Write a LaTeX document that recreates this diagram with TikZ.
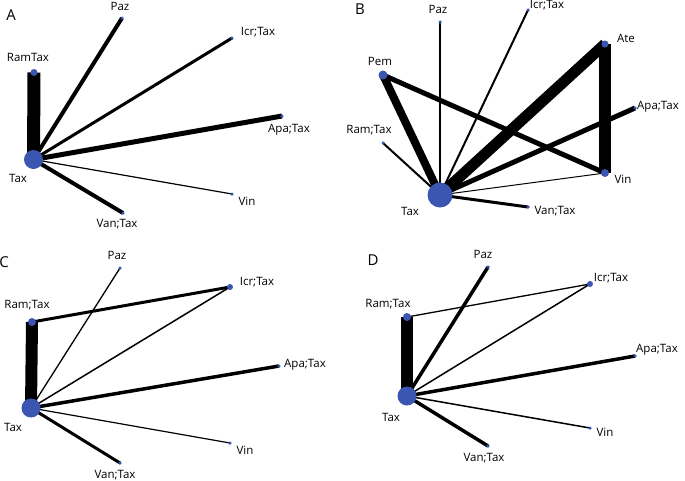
\documentclass[tikz,border=0pt]{standalone}
\usepackage{fontspec}
\setmainfont{Open Sans}
\definecolor{nodeblue}{HTML}{3A56B0}
\begin{document}
\begin{tikzpicture}[x=1pt,y=-1pt,
  dot/.style={circle,fill=nodeblue,inner sep=0pt,minimum size=#1},
  lab/.style={font=\fontsize{11.5}{13}\selectfont,inner sep=0pt},
  panel/.style={font=\fontsize{15}{17}\selectfont,inner sep=0pt},
  ed/.style={line width=#1,black,line cap=butt}]
\useasboundingbox (0,0) rectangle (685,480);
% ---------------- Panel A
\node[panel] (pA) at (11,15) {A};
\coordinate (aTax) at (33.5,159.5);
\coordinate (aRam) at (34,72.5);
\coordinate (aPaz) at (122,18);
\coordinate (aIcr) at (232,38);
\coordinate (aApa) at (282,116);
\coordinate (aVin) at (232,194);
\coordinate (aVan) at (123,213);
\draw[ed=13pt] (aTax) -- (aRam);
\draw[ed=4pt] (aTax) -- (aPaz);
\draw[ed=3pt] (aTax) -- (aIcr);
\draw[ed=5pt] (aTax) -- (aApa);
\draw[ed=1.2pt] (aTax) -- (aVin);
\draw[ed=4pt] (aTax) -- (aVan);
\node[dot=19pt] (nATax) at (aTax) {};
\node[dot=7pt] (nARam) at (aRam) {};
\node[dot=3.5pt] (nAPaz) at (aPaz) {};
\node[dot=3.5pt] (nAIcr) at (aIcr) {};
\node[dot=3.5pt] (nAApa) at (aApa) {};
\node[dot=3.5pt] (nAVin) at (aVin) {};
\node[dot=3.5pt] (nAVan) at (aVan) {};
\node[lab] (lATax) at (18,178) {Tax};
\node[lab] (lARam) at (28,57) {RamTax};
\node[lab] (lAPaz) at (120,6) {Paz};
\node[lab] (lAIcr) at (258,32) {Icr;Tax};
\node[lab] (lAApa) at (289,130) {Apa;Tax};
\node[lab] (lAVin) at (247,201) {Vin};
\node[lab] (lAVan) at (117,224) {Van;Tax};
% ---------------- Panel B
\node[panel] (pB) at (360,9) {B};
\coordinate (bTax) at (440,195);
\coordinate (bPem) at (383,75);
\coordinate (bPaz) at (440,22);
\coordinate (bIcr) at (528,10);
\coordinate (bAte) at (605,44);
\coordinate (bApa) at (635,108);
\coordinate (bRam) at (383,143);
\coordinate (bVin) at (605,173);
\coordinate (bVan) at (528,207);
\draw[ed=8pt] (bTax) -- (bPem);
\draw[ed=5pt] (bPem) -- (bVin);
\draw[ed=2pt] (bTax) -- (bPaz);
\draw[ed=2pt] (bTax) -- (bIcr);
\draw[ed=11pt] (bTax) -- (bAte);
\draw[ed=12.5pt] (bAte) -- (bVin);
\draw[ed=5pt] (bTax) -- (bApa);
\draw[ed=2pt] (bTax) -- (bRam);
\draw[ed=1pt] (bTax) -- (bVin);
\draw[ed=3pt] (bTax) -- (bVan);
\node[dot=25pt] (nBTax) at (bTax) {};
\node[dot=9pt] (nBPem) at (bPem) {};
\node[dot=3.5pt] (nBPaz) at (bPaz) {};
\node[dot=3.5pt] (nBIcr) at (bIcr) {};
\node[dot=7pt] (nBAte) at (bAte) {};
\node[dot=3.5pt] (nBApa) at (bApa) {};
\node[dot=3.5pt] (nBRam) at (bRam) {};
\node[dot=8pt] (nBVin) at (bVin) {};
\node[dot=3.5pt] (nBVan) at (bVan) {};
\node[lab] (lBTax) at (410,211) {Tax};
\node[lab] (lBPem) at (380,61) {Pem};
\node[lab] (lBPaz) at (438,9) {Paz};
\node[lab] (lBIcr) at (547,5) {Icr;Tax};
\node[lab] (lBAte) at (626,38) {Ate};
\node[lab] (lBApa) at (658,107) {Apa;Tax};
\node[lab] (lBRam) at (369,130) {Ram;Tax};
\node[lab] (lBVin) at (623,179) {Vin};
\node[lab] (lBVan) at (555,211) {Van;Tax};
% ---------------- Panel C
\node[panel] (pC) at (4,262) {C};
\coordinate (cTax) at (31,408);
\coordinate (cRam) at (32,322);
\coordinate (cPaz) at (120,268);
\coordinate (cIcr) at (230,287);
\coordinate (cApa) at (279,366);
\coordinate (cVin) at (230,443);
\coordinate (cVan) at (120,463);
\draw[ed=12pt] (cTax) -- (cRam);
\draw[ed=3pt] (cRam) -- (cIcr);
\draw[ed=1.3pt] (cTax) -- (cPaz);
\draw[ed=1.5pt] (cTax) -- (cIcr);
\draw[ed=3.5pt] (cTax) -- (cApa);
\draw[ed=1.2pt] (cTax) -- (cVin);
\draw[ed=3pt] (cTax) -- (cVan);
\node[dot=19pt] (nCTax) at (cTax) {};
\node[dot=8pt] (nCRam) at (cRam) {};
\node[dot=3.5pt] (nCPaz) at (cPaz) {};
\node[dot=6pt] (nCIcr) at (cIcr) {};
\node[dot=3.5pt] (nCApa) at (cApa) {};
\node[dot=3.5pt] (nCVin) at (cVin) {};
\node[dot=3.5pt] (nCVan) at (cVan) {};
\node[lab] (lCTax) at (13,427) {Tax};
\node[lab] (lCRam) at (27,305) {Ram;Tax};
\node[lab] (lCPaz) at (117,255) {Paz};
\node[lab] (lCIcr) at (257,282) {Icr;Tax};
\node[lab] (lCApa) at (305,365) {Apa;Tax};
\node[lab] (lCVin) at (245,450) {Vin};
\node[lab] (lCVan) at (115,475) {Van;Tax};
% ---------------- Panel D
\node[panel] (pD) at (373,260) {D};
\coordinate (dTax) at (407,396);
\coordinate (dRam) at (407,317);
\coordinate (dPaz) at (488,267);
\coordinate (dIcr) at (590,284);
\coordinate (dApa) at (635,356);
\coordinate (dVin) at (590,428);
\coordinate (dVan) at (488,446);
\draw[ed=12pt] (dTax) -- (dRam);
\draw[ed=1.3pt] (dRam) -- (dIcr);
\draw[ed=3.5pt] (dTax) -- (dPaz);
\draw[ed=1.5pt] (dTax) -- (dIcr);
\draw[ed=3.5pt] (dTax) -- (dApa);
\draw[ed=1.5pt] (dTax) -- (dVin);
\draw[ed=3.5pt] (dTax) -- (dVan);
\node[dot=19pt] (nDTax) at (dTax) {};
\node[dot=8pt] (nDRam) at (dRam) {};
\node[dot=3.5pt] (nDPaz) at (dPaz) {};
\node[dot=6pt] (nDIcr) at (dIcr) {};
\node[dot=3.5pt] (nDApa) at (dApa) {};
\node[dot=3.5pt] (nDVin) at (dVin) {};
\node[dot=3.5pt] (nDVan) at (dVan) {};
\node[lab] (lDTax) at (391,417) {Tax};
\node[lab] (lDRam) at (388,304) {Ram;Tax};
\node[lab] (lDPaz) at (483,254) {Paz};
\node[lab] (lDIcr) at (611,278) {Icr;Tax};
\node[lab] (lDApa) at (657,350) {Apa;Tax};
\node[lab] (lDVin) at (605,432) {Vin};
\node[lab] (lDVan) at (484,458) {Van;Tax};
\end{tikzpicture}
\end{document}
